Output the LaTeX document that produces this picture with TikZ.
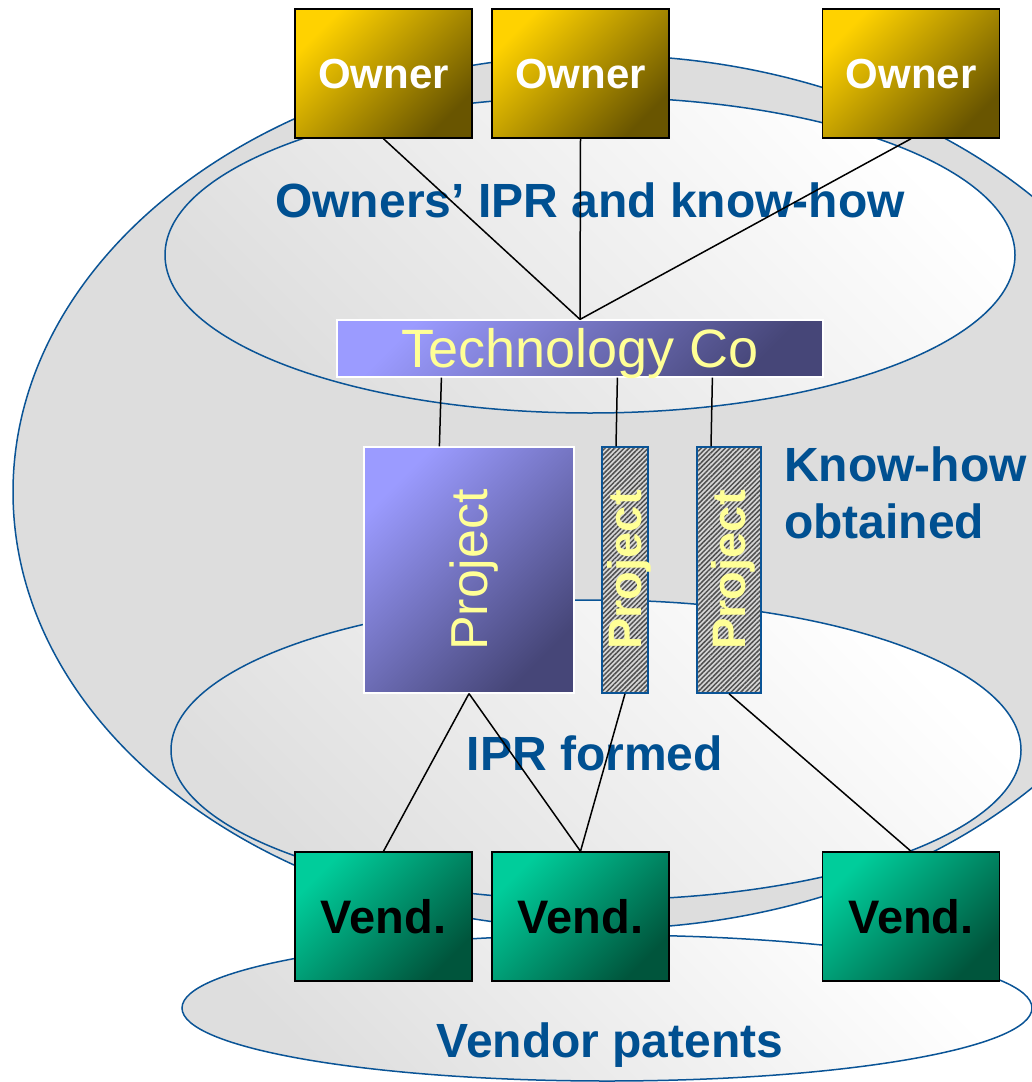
\documentclass[tikz,border=0pt]{standalone}
\usepackage{fontspec}
\setmainfont{Liberation Sans}
\usetikzlibrary{patterns.meta}
\definecolor{eblue}{RGB}{10,84,150}
\definecolor{tblue}{RGB}{0,80,145}
\definecolor{gold1}{RGB}{255,210,0}
\definecolor{gold2}{RGB}{105,85,0}
\definecolor{vio1}{RGB}{155,155,255}
\definecolor{vio2}{RGB}{70,70,120}
\definecolor{teal1}{RGB}{0,205,155}
\definecolor{teal2}{RGB}{0,85,60}
\definecolor{lyel}{RGB}{255,255,150}
\definecolor{bgray}{RGB}{221,221,221}
\definecolor{hatchbg}{RGB}{215,215,215}
\definecolor{hatchfg}{RGB}{80,80,80}
\begin{document}
\begin{tikzpicture}[x=1pt,y=1pt,
  ell/.style={draw=eblue, line width=1.5pt},
  lightell/.style={ell, top color=white, bottom color=black!13, shading angle=-45},
  lbl/.style={text=tblue, inner sep=0pt, font=\fontsize{48}{57}\selectfont\bfseries},
  ownerbox/.style={draw=black, line width=1.5pt, minimum width=177pt, minimum height=129pt,
    inner sep=0pt, top color=gold1, bottom color=gold2, shading angle=45, text=white,
    text height=30pt, text depth=0pt, font=\fontsize{42}{48}\selectfont\bfseries},
  vendbox/.style={draw=black, line width=1.5pt, minimum width=177pt, minimum height=129pt,
    inner sep=0pt, top color=teal1, bottom color=teal2, shading angle=45, text=black,
    text height=33.7pt, text depth=0pt, font=\fontsize{47}{52}\selectfont\bfseries},
  violetbox/.style={draw=white, line width=1.2pt, inner sep=0pt,
    top color=vio1, bottom color=vio2, shading angle=45},
  hatchbox/.style={draw=eblue, line width=1.5pt, inner sep=0pt, minimum height=246pt,
    preaction={fill=hatchbg},
    pattern={Lines[angle=45,distance=3.4pt,line width=1.5pt]}, pattern color=hatchfg},
  vtext/.style={rotate=90, inner sep=0pt, text=lyel, text depth=0pt},
  link/.style={draw=black, line width=1.5pt}
]
\useasboundingbox (0,0) rectangle (1032,-1082);
\clip (0,0) rectangle (1032,-1082);

% ellipses
\draw[ell, fill=bgray] (600,-492) ellipse [x radius=587, y radius=437];
\draw[lightell] (590,-255) ellipse [x radius=425, y radius=158];
\draw[lightell] (596,-750) ellipse [x radius=425, y radius=150];
\draw[lightell] (607,-1008) ellipse [x radius=425, y radius=73];

% labels
\node[lbl, anchor=base] (lown) at (590,-217) {Owners’ IPR and know-how};
\node[lbl, anchor=base] (lipr) at (595,-770) {IPR formed};
\node[lbl, anchor=base] (lven) at (610,-1057) {Vendor patents};
\node[lbl, anchor=west, align=left] (lkh) at (784,-493) {Know-how\\obtained};

% boxes
\node[ownerbox] (o1) at (383.5,-73.5) {Owner};
\node[ownerbox] (o2) at (580.5,-73.5) {Owner};
\node[ownerbox] (o3) at (911,-73.5) {Owner};

\node[violetbox, minimum width=486pt, minimum height=57pt, text=lyel,
  text height=38.5pt, text depth=0pt, font=\fontsize{54}{60}\selectfont] (tc) at (580,-348.5) {Technology Co};

\node[violetbox, minimum width=210pt, minimum height=246pt] (proj) at (469,-570) {};
\node[vtext, text height=37.2pt, font=\fontsize{52}{58}\selectfont] (projt) at (proj.center) {Project};

\node[hatchbox, minimum width=46pt] (h1) at (625,-570) {};
\node[vtext, text height=33.7pt, font=\fontsize{47}{52}\selectfont\bfseries] (h1t) at (h1.center) {Project};
\node[hatchbox, minimum width=64pt] (h2) at (729,-570) {};
\node[vtext, text height=33.7pt, font=\fontsize{47}{52}\selectfont\bfseries] (h2t) at (h2.center) {Project};

\node[vendbox] (v1) at (383.5,-916.5) {Vend.};
\node[vendbox] (v2) at (580.5,-916.5) {Vend.};
\node[vendbox] (v3) at (911,-916.5) {Vend.};

% connectors
\draw[link] (o1.south) -- (tc.north);
\draw[link] (o2.south) -- (tc.north);
\draw[link] (o3.south) -- (tc.north);
\draw[link] ([xshift=105pt]tc.south west) -- ([xshift=76pt]proj.north west);
\draw[link] ([xshift=281pt]tc.south west) -- ([xshift=-9pt]h1.north);
\draw[link] ([xshift=376pt]tc.south west) -- ([xshift=-18pt]h2.north);
\draw[link] (proj.south) -- (v1.north);
\draw[link] (proj.south) -- (v2.north);
\draw[link] (h1.south) -- (v2.north);
\draw[link] (h2.south) -- (v3.north);
\end{tikzpicture}
\end{document}
